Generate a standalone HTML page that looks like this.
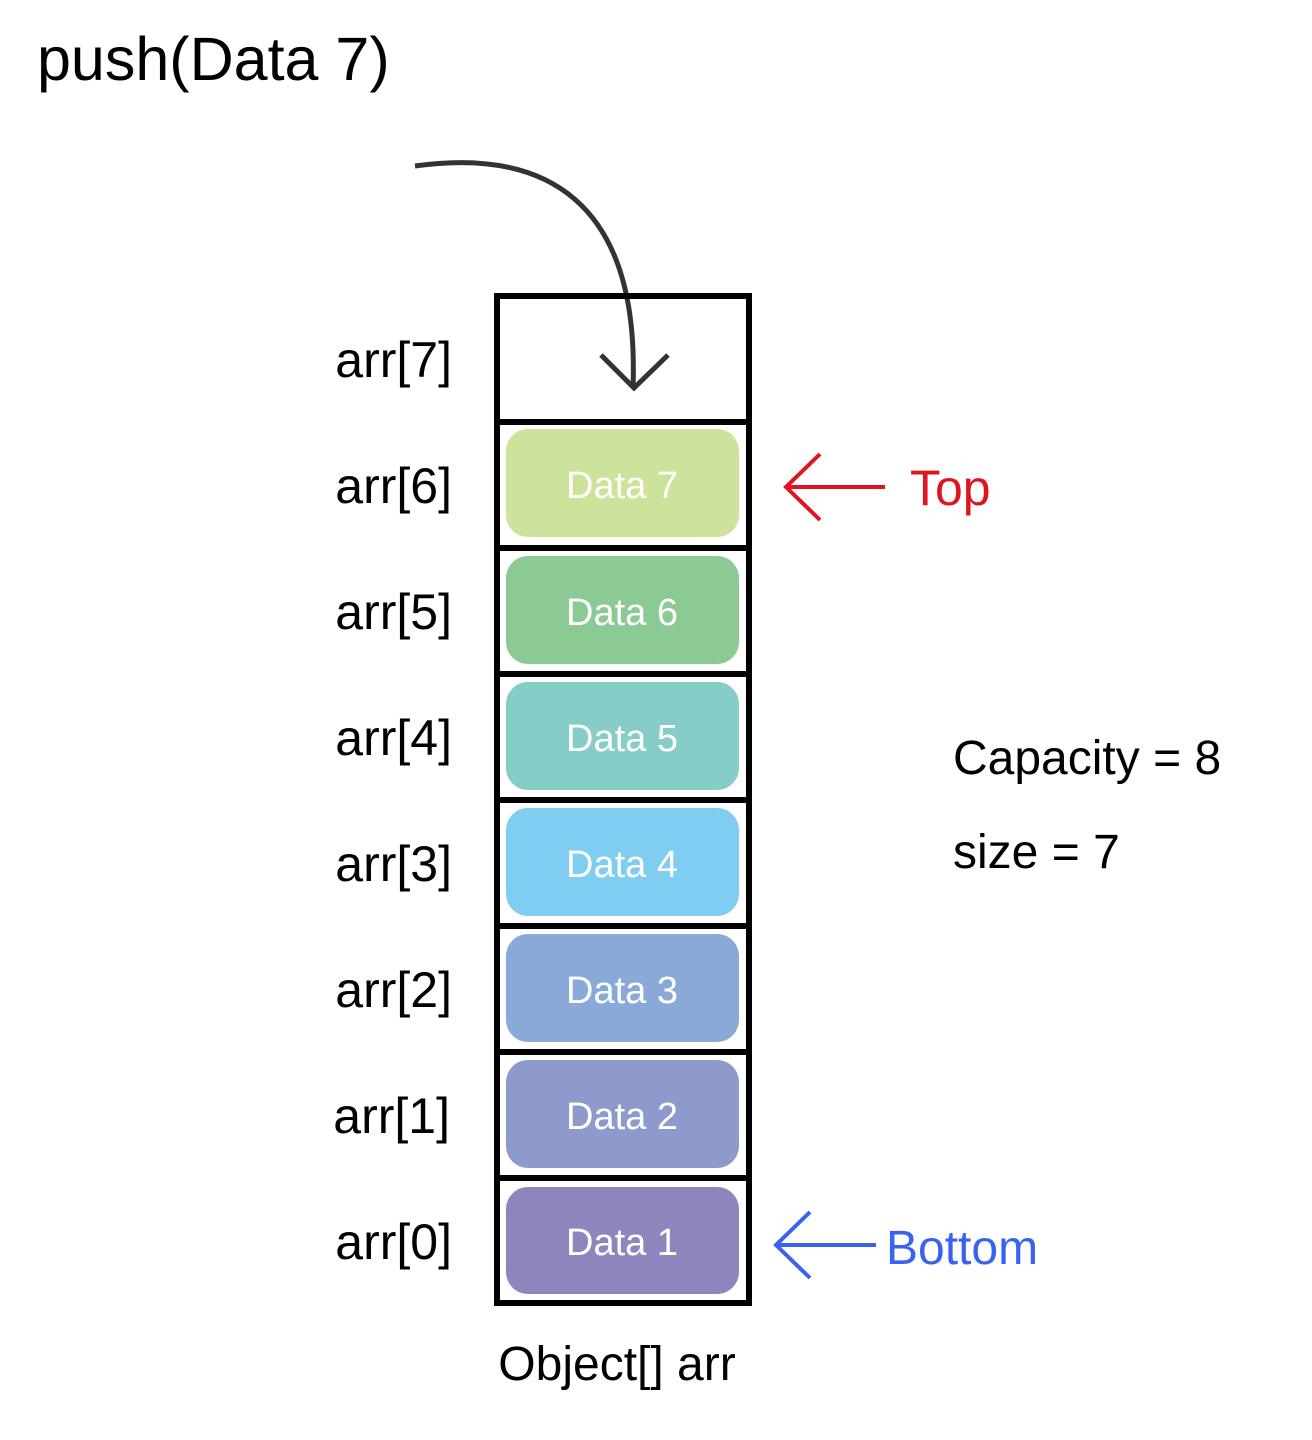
<!DOCTYPE html>
<html><head><meta charset="utf-8"><style>
html,body{margin:0;padding:0;background:#fff;}
svg{display:block;}
text{font-family:"Liberation Sans","DejaVu Sans",sans-serif;}
</style></head><body>
<svg width="1312" height="1440" viewBox="0 0 1312 1440" xmlns="http://www.w3.org/2000/svg">
<text x="37" y="80" font-size="61" fill="#000">push(Data 7)</text>
<path d="M415,166 C545,148 640,200 633,388" fill="none" stroke="#333" stroke-width="5"/>
<polyline points="601,355 634,388 668,355" fill="none" stroke="#333" stroke-width="5"/>
<g fill="none" stroke="#000" stroke-width="6">
<rect x="497" y="296" width="252" height="1007"/>
<line x1="497" y1="422" x2="749" y2="422"/>
<line x1="497" y1="548" x2="749" y2="548"/>
<line x1="497" y1="674" x2="749" y2="674"/>
<line x1="497" y1="800" x2="749" y2="800"/>
<line x1="497" y1="926" x2="749" y2="926"/>
<line x1="497" y1="1052" x2="749" y2="1052"/>
<line x1="497" y1="1178" x2="749" y2="1178"/>
</g>
<g>
<rect x="506" y="429" width="233" height="108" rx="22" fill="#cde29a"/>
<rect x="506" y="556" width="233" height="108" rx="22" fill="#8bc995"/>
<rect x="506" y="682" width="233" height="108" rx="22" fill="#86cdc8"/>
<rect x="506" y="808" width="233" height="108" rx="22" fill="#7fcdf1"/>
<rect x="506" y="934" width="233" height="108" rx="22" fill="#89aad8"/>
<rect x="506" y="1060" width="233" height="108" rx="22" fill="#8d9acb"/>
<rect x="506" y="1187" width="233" height="107" rx="22" fill="#8f84bc"/>
</g>
<g fill="#fff" font-size="38" text-anchor="middle">
<text x="622" y="498">Data 7</text>
<text x="622" y="625">Data 6</text>
<text x="622" y="751">Data 5</text>
<text x="622" y="877">Data 4</text>
<text x="622" y="1003">Data 3</text>
<text x="622" y="1129">Data 2</text>
<text x="622" y="1255">Data 1</text>
</g>
<g fill="#000" font-size="50" text-anchor="end">
<text x="452" y="377">arr[7]</text>
<text x="452" y="503">arr[6]</text>
<text x="452" y="629">arr[5]</text>
<text x="452" y="755">arr[4]</text>
<text x="452" y="881">arr[3]</text>
<text x="452" y="1007">arr[2]</text>
<text x="450" y="1133">arr[1]</text>
<text x="452" y="1259">arr[0]</text>
</g>
<g stroke="#e0141e" stroke-width="4" fill="none">
<line x1="786" y1="487" x2="885" y2="487"/>
<polyline points="820,454 786,487 820,520"/>
</g>
<text x="910" y="505" font-size="50" fill="#e0141e">Top</text>
<g stroke="#3a62f0" stroke-width="4" fill="none">
<line x1="776" y1="1245" x2="876" y2="1245"/>
<polyline points="810,1212 776,1245 810,1278"/>
</g>
<text x="886" y="1264" font-size="48" fill="#3a62f0">Bottom</text>
<text x="953" y="774" font-size="48" fill="#000">Capacity = 8</text>
<text x="953" y="868" font-size="48" fill="#000">size = 7</text>
<text x="617" y="1380" font-size="48" fill="#000" text-anchor="middle">Object[] arr</text>
</svg>
</body></html>
